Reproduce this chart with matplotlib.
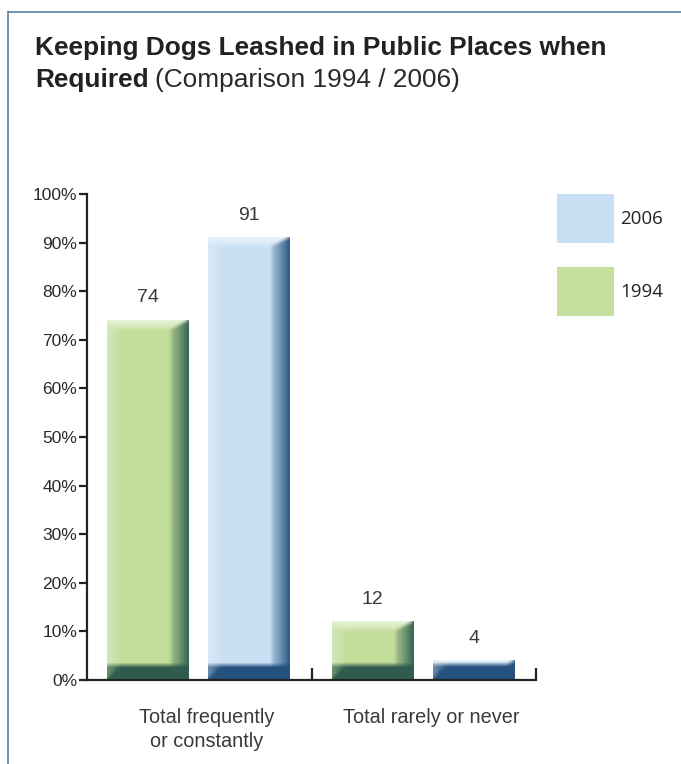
import numpy as np
import matplotlib
matplotlib.use("Agg")
import matplotlib.pyplot as plt
from matplotlib.colors import to_rgb
from matplotlib.lines import Line2D
from matplotlib.patches import Rectangle

# data
categories = ["Total frequently\nor constantly", "Total rarely or never"]
years = ["1994", "2006"]
values_1994 = [74, 12]
values_2006 = [91, 4]
yticks = [0, 10, 20, 30, 40, 50, 60, 70, 80, 90, 100]

face = {"1994": "#c3de9b", "2006": "#c9e0f4"}
dark = {"1994": "#2b594b", "2006": "#1f4d7b"}
legend_face = {"1994": "#c5df9e", "2006": "#c8dff3"}

plt.rcParams["font.family"] = ["Liberation Sans", "DejaVu Sans"]

fig = plt.figure(figsize=(6.81, 7.64), dpi=100)
ax = fig.add_axes([87 / 681, 1 - 680 / 764, 449 / 681, 486 / 764])
ax.set_xlim(0, 2)
ax.set_ylim(0, 100)

# frame lines around the panel
border = "#5a7fa3"
fig.add_artist(Line2D([8 / 681, 1], [1 - 12 / 764] * 2, color=border, lw=1.2))
fig.add_artist(Line2D([8 / 681] * 2, [0, 1 - 12 / 764], color=border, lw=1.2))

# title
fig.text(35 / 681, 1 - 48 / 764, "Keeping Dogs Leashed in Public Places when",
         fontsize=18.9, fontweight="bold", color="#222222", va="center")
t = fig.text(35 / 681, 1 - 80 / 764, "Required", fontsize=18.9, fontweight="bold",
             color="#222222", va="center")
fig.canvas.draw()
bb = t.get_window_extent()
fig.text((bb.x1 + 6) / 681, 1 - 80 / 764, "(Comparison 1994 / 2006)",
         fontsize=18.9, color="#2a2a2a", va="center")


def box_blur(img, r):
    # separable box blur with edge padding
    out = img
    for axis in (0, 1):
        pad = [(0, 0)] * 3
        pad[axis] = (r, r)
        p = np.pad(out, pad, mode="edge")
        c = np.cumsum(p, axis=axis)
        c = np.concatenate([np.zeros_like(np.take(c, [0], axis=axis)), c], axis=axis)
        n = out.shape[axis]
        out = (np.take(c, np.arange(2 * r + 1, 2 * r + 1 + n), axis=axis)
               - np.take(c, np.arange(0, n), axis=axis)) / (2 * r + 1)
    return out


def bevel_image(fc, dc, w_px, h_px):
    # shaded bar face: light top/left edges, dark right/bottom edges
    w_px = max(int(round(w_px)), 2)
    h_px = max(int(round(h_px)), 2)
    xs = np.arange(w_px) + 0.5
    ys = np.arange(h_px) + 0.5
    X, Y = np.meshgrid(xs, ys)  # Y = 0 at top
    f = np.array(to_rgb(fc))
    d = np.array(to_rgb(dc))
    white = np.ones(3)
    img = np.tile(f, (h_px, w_px, 1))

    dl = X
    dr = w_px - X
    dt = Y
    db = h_px - Y
    br, bb_, bt, bl = 18.0, 15.0, 9.0, 15.0

    # left highlight
    m = (dl < bl) & (dl * bt / bl <= dt)
    k = (1 - dl / bl)[..., None]
    img = np.where(m[..., None], f + (white - f) * 0.3 * k, img)
    # top highlight
    m = (dt < bt) & (dt * br / bt < dr)
    k = (1 - dt / bt)[..., None] * 0.45 + 0.2
    img = np.where(m[..., None], f + (white - f) * k, img)
    # right dark side
    m = (dr < br) & (dr * bt / br <= dt) & (dr * bb_ / br < db)
    k = np.clip(1 - dr / br, 0, 1)[..., None] ** 1.2
    img = np.where(m[..., None], f + (d - f) * (0.25 + 0.7 * k), img)
    # bottom dark band with slanted left end
    m = (db < bb_) & (db <= dl * 0.9 + 2)
    img = np.where(m[..., None], d * 0.97 + f * 0.03, img)
    m = (db < bb_) & (db > dl * 0.9 + 2)
    k = (dl / bl)[..., None].clip(0, 1)
    img = np.where(m[..., None], f + (d - f) * (0.55 + 0.4 * k), img)
    return np.clip(box_blur(img, 2), 0, 1)


centers = {"1994": 0.272, "2006": 0.722}
width = 0.365
px_x = ax.transData.transform((1, 0))[0] - ax.transData.transform((0, 0))[0]
px_y = ax.transData.transform((0, 1))[1] - ax.transData.transform((0, 0))[1]

for yr, vals in zip(years, [values_1994, values_2006]):
    for i, v in enumerate(vals):
        x0 = i + centers[yr] - width / 2
        img = bevel_image(face[yr], dark[yr], width * px_x, v * px_y)
        ax.imshow(img, extent=(x0, x0 + width, 0, v), aspect="auto",
                  interpolation="bilinear", zorder=2)
        ax.annotate(str(v), (i + centers[yr], v), xytext=(0, 10),
                    textcoords="offset points", ha="center", va="bottom",
                    fontsize=14, color="#3a3a3a")

ax.set_xlim(0, 2)
ax.set_ylim(0, 100)

# axes styling
for s in ["top", "right"]:
    ax.spines[s].set_visible(False)
for s in ["left", "bottom"]:
    ax.spines[s].set_linewidth(1.6)
    ax.spines[s].set_color("#222222")
ax.set_yticks(yticks)
ax.set_yticklabels([f"{v}%" for v in yticks])
ax.tick_params(axis="y", direction="out", length=5.5, width=1.6,
               color="#222222", labelsize=12.5, labelcolor="#2a2a2a", pad=1.5)
ax.set_xticks([1, 2])
ax.set_xticklabels(["", ""])
ax.tick_params(axis="x", direction="in", length=9, width=1.6, color="#222222")

for i, c in enumerate(categories):
    ax.text(i + 0.535, -5.8, c, ha="center", va="top", fontsize=14.3,
            color="#3a3a3a", linespacing=1.32, transform=ax.transData,
            clip_on=False)

# legend boxes
leg_items = [("2006", 194), ("1994", 267)]
for yr, top in leg_items:
    fig.add_artist(Rectangle((557 / 681, 1 - (top + 49) / 764), 57 / 681, 49 / 764,
                             transform=fig.transFigure, facecolor=legend_face[yr],
                             edgecolor="none"))
    fig.text(620 / 681, 1 - (top + 25) / 764, yr, fontsize=13.5, color="#222222",
             va="center", family=["Open Sans", "DejaVu Sans"])

fig.savefig("out.png", dpi=100)
